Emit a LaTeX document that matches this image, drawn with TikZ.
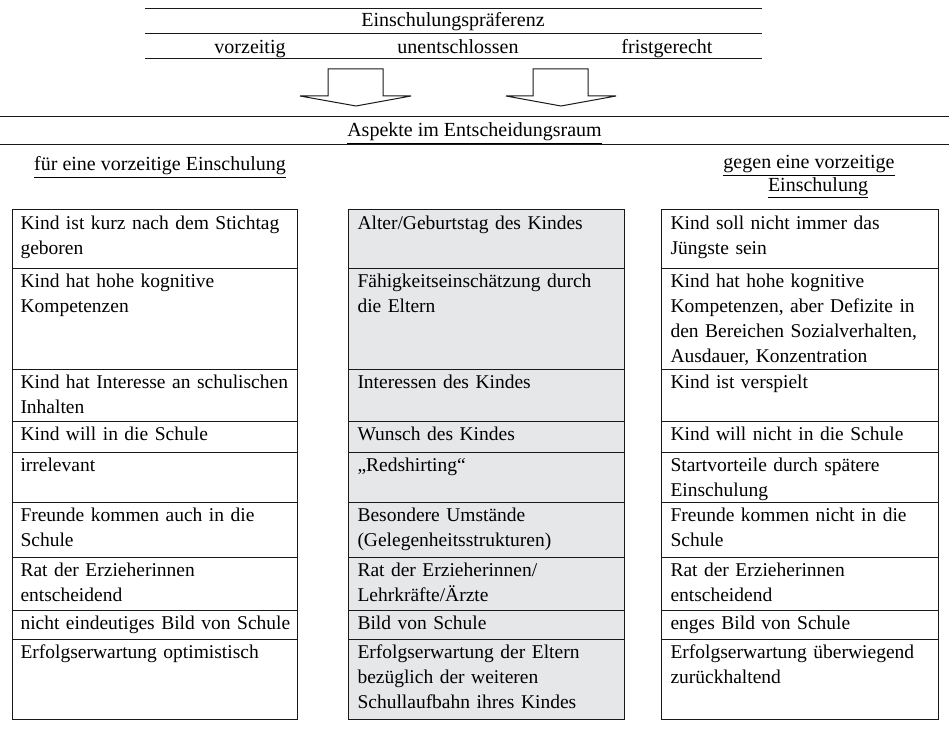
\documentclass[tikz,border=0pt]{standalone}
\usepackage{fontspec}
\setmainfont{Liberation Serif}
\newcommand\cellfont{\fontsize{19.5bp}{25bp}\selectfont}
\newcommand\hdfont{\fontsize{20bp}{24bp}\selectfont}
\newcommand\st{\rule{0pt}{16bp}}
\definecolor{midfill}{RGB}{230,231,233}
\definecolor{rulecol}{RGB}{25,25,25}
\begin{document}
\begin{tikzpicture}[x=1bp,y=-1bp,line width=1bp,
  cell/.style={anchor=north west,inner sep=0pt,text width=280bp,align=left,font=\cellfont},
  hd/.style={anchor=base,inner sep=0pt,font=\hdfont},
  rl/.style={draw=rulecol,line width=1bp},
  blockarrow/.style={draw=rulecol,line width=1bp,fill=white}]
\useasboundingbox (0,0) rectangle (949,729);
% header
\draw[rl] (145,9) -- (762,9);
\node[hd] (pref) at (453,27) {\underline{Einschulungspräferenz}};
\draw[rl] (145,34) -- (762,34);
\node[hd] (vz) at (250,54) {vorzeitig};
\node[hd] (ue) at (458,54) {unentschlossen};
\node[hd] (fg) at (667,54) {fristgerecht};
\draw[rl] (145,59) -- (762,59);
% arrows
\draw[blockarrow] (328,69) -- (383,69) -- (383,96) -- (411,96) -- (356,106) -- (300,96) -- (328,96) -- cycle;
\draw[blockarrow] (533,69) -- (588,69) -- (588,96) -- (616,96) -- (561,106) -- (506,96) -- (533,96) -- cycle;
% aspects
\draw[rl] (0,117) -- (949,117);
\node[hd] (asp) at (474.5,137) {\underline{Aspekte im Entscheidungsraum}};
\draw[rl] (0,145) -- (949,145);
\node[hd] (fuer) at (160,171) {\underline{für eine vorzeitige Einschulung}};
\node[hd] (geg1) at (809,169) {\underline{gegen eine vorzeitige}};
\node[hd] (geg2) at (818,191) {\underline{Einschulung}};
% boxes
\fill[midfill] (348,209) rectangle (624,719);
\foreach \xa/\xb in {12/297,348/624,661/938}{
  \draw[rl] (\xa,209) rectangle (\xb,719);
  \foreach \yy in {268,369,421,452,502,557,610,639}
    \draw[rl] (\xa,\yy) -- (\xb,\yy);
}
% left column
\node[cell] (l1) at (20,213) {\st Kind ist kurz nach dem Stichtag\\geboren};
\node[cell] (l2) at (20,271) {\st Kind hat hohe kognitive\\Kompetenzen};
\node[cell] (l3) at (20,372) {\st Kind hat Interesse an schulischen\\Inhalten};
\node[cell] (l4) at (20,424) {\st Kind will in die Schule};
\node[cell] (l5) at (20,455) {\st irrelevant};
\node[cell] (l6) at (20,505) {\st Freunde kommen auch in die\\Schule};
\node[cell] (l7) at (20,560) {\st Rat der Erzieherinnen\\entscheidend};
\node[cell] (l8) at (20,613) {\st nicht eindeutiges Bild von Schule};
\node[cell] (l9) at (20,642) {\st Erfolgserwartung optimistisch};
% middle column
\node[cell] (m1) at (357,213) {\st Alter/Geburtstag des Kindes};
\node[cell] (m2) at (357,271) {\st Fähigkeitseinschätzung durch\\die Eltern};
\node[cell] (m3) at (357,372) {\st Interessen des Kindes};
\node[cell] (m4) at (357,424) {\st Wunsch des Kindes};
\node[cell] (m5) at (357,455) {\st „Redshirting“};
\node[cell] (m6) at (357,505) {\st Besondere Umstände\\(Gelegenheitsstrukturen)};
\node[cell] (m7) at (357,560) {\st Rat der Erzieherinnen/\\Lehrkräfte/Ärzte};
\node[cell] (m8) at (357,613) {\st Bild von Schule};
\node[cell] (m9) at (357,642) {\st Erfolgserwartung der Eltern\\bezüglich der weiteren\\Schullaufbahn ihres Kindes};
% right column
\node[cell] (r1) at (670,213) {\st Kind soll nicht immer das\\Jüngste sein};
\node[cell] (r2) at (670,271) {\st Kind hat hohe kognitive\\Kompetenzen, aber Defizite in\\den Bereichen Sozialverhalten,\\Ausdauer, Konzentration};
\node[cell] (r3) at (670,372) {\st Kind ist verspielt};
\node[cell] (r4) at (670,424) {\st Kind will nicht in die Schule};
\node[cell] (r5) at (670,455) {\st Startvorteile durch spätere\\Einschulung};
\node[cell] (r6) at (670,505) {\st Freunde kommen nicht in die\\Schule};
\node[cell] (r7) at (670,560) {\st Rat der Erzieherinnen\\entscheidend};
\node[cell] (r8) at (670,613) {\st enges Bild von Schule};
\node[cell] (r9) at (670,642) {\st Erfolgserwartung überwiegend\\zurückhaltend};
\end{tikzpicture}
\end{document}
